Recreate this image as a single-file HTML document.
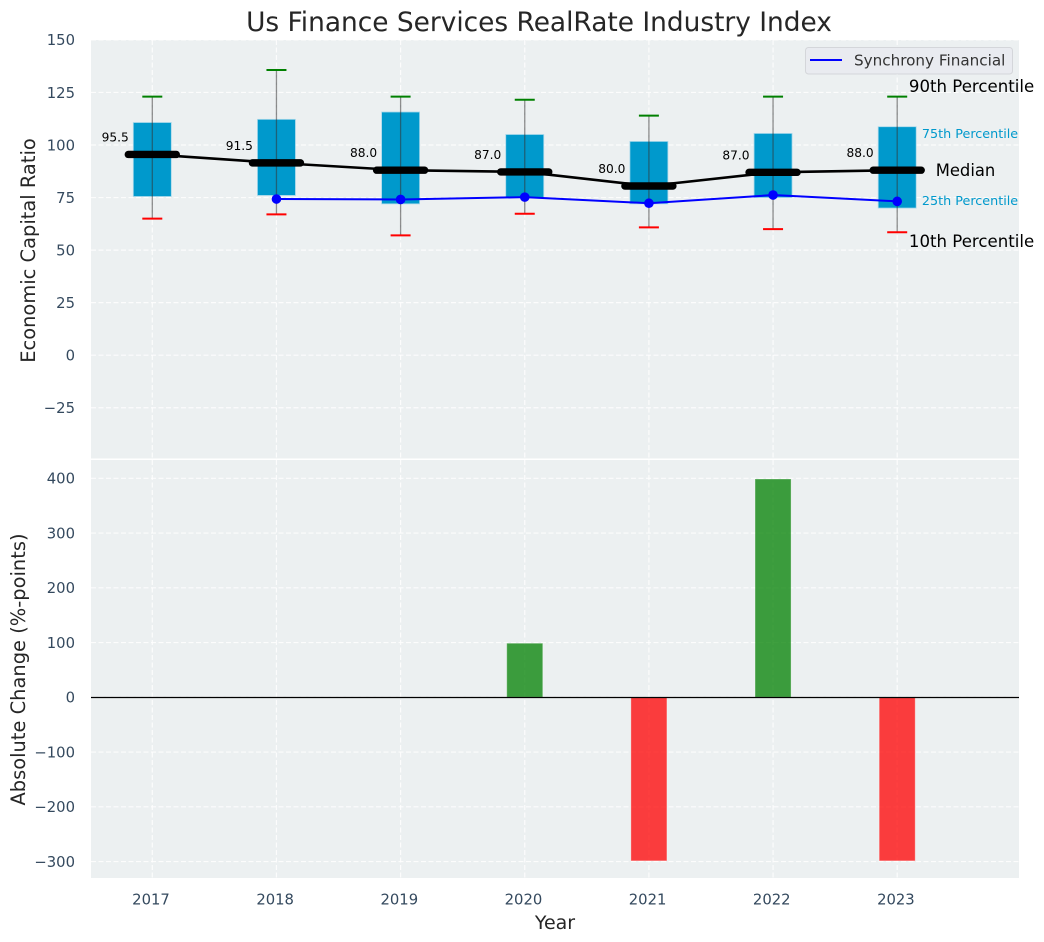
<!DOCTYPE html>
<html lang="en">
<head>
<meta charset="utf-8">
<title>Us Finance Services RealRate Industry Index</title>
<style>
html,body{margin:0;padding:0;background:#fff;width:1044px;height:942px;overflow:hidden}
svg{display:block;font-family:"DejaVu Sans","Liberation Sans",sans-serif}
</style>
</head>
<body>
<svg id="chart" width="1044" height="942" viewBox="0 0 1044 942" xmlns="http://www.w3.org/2000/svg">
  <rect x="91" y="40" width="928" height="418.5" fill="#ecf0f1"/>
  <rect x="91" y="460" width="928" height="418" fill="#ecf0f1"/>
  <g id="grid"></g>
  <g id="ticks"></g>
  <g id="bars"></g>
  <g id="boxes"></g>
  <g id="lines"></g>
  <g id="annotations"></g>
  <text x="539" y="31" text-anchor="middle" font-size="26.4" fill="#262626">Us Finance Services RealRate Industry Index</text>
  <text transform="translate(35,250.5) rotate(-90)" text-anchor="middle" font-size="19.45" fill="#262626">Economic Capital Ratio</text>
  <text transform="translate(25,669.5) rotate(-90)" text-anchor="middle" font-size="19.45" fill="#262626">Absolute Change (%-points)</text>
  <text x="555" y="929" text-anchor="middle" font-size="19" fill="#262626">Year</text>
  <g>
    <rect x="805.5" y="47.5" width="207" height="26.5" rx="3" fill="#e9ebf0" stroke="#d4d6da" stroke-width="1"/>
    <line x1="810" y1="60" x2="842" y2="60" stroke="#0000ff" stroke-width="2"/>
    <text x="854" y="65.5" font-size="15.2" fill="#333">Synchrony Financial</text>
  </g>
</svg>
<script>
var years = [2017, 2018, 2019, 2020, 2021, 2022, 2023];
var p10 = [65, 67, 57, 67.3, 60.8, 60, 58.5];
var q1 = [75.5, 76, 72, 75, 72, 75, 70];
var medians = [95.5, 91.5, 88, 87.2, 80.5, 87, 88];
var q3 = [110.7, 112.2, 115.7, 105, 101.7, 105.5, 108.7];
var p90 = [123, 135.7, 123, 121.5, 114, 123, 123];
var medianLabels = ["95.5", "91.5", "88.0", "87.0", "80.0", "87.0", "88.0"];
var synchrony = [null, 74.3, 74.1, 75.2, 72.3, 76.2, 73.2];
var changes = [null, null, null, 100, -300, 400, -300];
var topTicks = [150, 125, 100, 75, 50, 25, 0, -25];
var bottomTicks = [400, 300, 200, 100, 0, -100, -200, -300];

var NS = "http://www.w3.org/2000/svg";
function xPos(i) { return 152.3 + (years[i] - 2017) * 124.15; }
function yTop(v) { return 355.2 - v * 2.102; }
function yBottom(v) { return 697.3 - v * 0.5475; }
function fmt(t) { return t < 0 ? "\u2212" + Math.abs(t) : String(t); }
function mk(parent, tag, attrs, txt) {
  var el = document.createElementNS(NS, tag);
  for (var k in attrs) el.setAttribute(k, attrs[k]);
  if (txt !== undefined) el.textContent = txt;
  parent.appendChild(el);
  return el;
}
var grid = document.getElementById("grid");
var ticks = document.getElementById("ticks");
var bars = document.getElementById("bars");
var boxes = document.getElementById("boxes");
var lines = document.getElementById("lines");
var ann = document.getElementById("annotations");
var gridStyle = {stroke: "#ffffff", "stroke-width": 1.2, "stroke-dasharray": "5 2.5", opacity: 0.85};
function gridLine(x1, y1, x2, y2) {
  var a = {x1: x1, y1: y1, x2: x2, y2: y2};
  for (var k in gridStyle) a[k] = gridStyle[k];
  var el = mk(grid, "line", a);
  
  
}
topTicks.forEach(function (t) {
  gridLine(91, yTop(t), 1019, yTop(t));
  var el = mk(ticks, "text", {x: 75, y: yTop(t) + 5.3, "text-anchor": "end", "font-size": 14.8, fill: "#34495e"}, fmt(t));
  
  
});
bottomTicks.forEach(function (t) {
  gridLine(91, yBottom(t), 1019, yBottom(t));
  var el = mk(ticks, "text", {x: 75, y: yBottom(t) + 5.3, "text-anchor": "end", "font-size": 14.8, fill: "#34495e"}, fmt(t));
  
  
});
years.forEach(function (yr, i) {
  var x = xPos(i);
  gridLine(x, 40, x, 458.5);
  gridLine(x, 460, x, 878);
  var el = mk(ticks, "text", {x: x - 1.3, y: 904.5, "text-anchor": "middle", "font-size": 14.8, fill: "#34495e"}, String(yr));
  
  
});
changes.forEach(function (v, i) {
  if (v === null) return;
  var y0 = yBottom(0), y1 = yBottom(v);
  var inset = 0.7;
  var el = mk(bars, "rect", {x: xPos(i) - 18, y: Math.min(y0, y1) + (v > 0 ? inset : 0), width: 36, height: Math.abs(y1 - y0) - inset, fill: v > 0 ? "#008000" : "#ff0000", "fill-opacity": 0.75, stroke: "#ffffff", "stroke-opacity": 0.3, "stroke-width": 1});
  
  
});
var zero = mk(bars, "line", {x1: 91, y1: yBottom(0) + 0.2, x2: 1019, y2: yBottom(0) + 0.2, stroke: "#000", "stroke-width": 1.3});


years.forEach(function (yr, i) {
  var x = xPos(i);
  var box = mk(boxes, "rect", {x: x - 19, y: yTop(q3[i]), width: 38, height: yTop(q1[i]) - yTop(q3[i]), fill: "#0099cc", stroke: "#a8d8ea", "stroke-width": 0.8});
  
  
  var wh = mk(boxes, "line", {x1: x, y1: yTop(p90[i]), x2: x, y2: yTop(p10[i]), stroke: "#333", "stroke-opacity": 0.55, "stroke-width": 1.3});
  
  
  var hi = mk(boxes, "line", {x1: x - 10, y1: yTop(p90[i]), x2: x + 10, y2: yTop(p90[i]), stroke: "#008000", "stroke-width": 2});
  
  
  var lo = mk(boxes, "line", {x1: x - 10, y1: yTop(p10[i]), x2: x + 10, y2: yTop(p10[i]), stroke: "#ff0000", "stroke-width": 2});
  
  
});
var medPts = years.map(function (y, i) { return xPos(i) + "," + yTop(medians[i]); }).join(" ");
var medLine = mk(lines, "polyline", {points: medPts, fill: "none", stroke: "#000", "stroke-width": 2.6});


years.forEach(function (yr, i) {
  var x = xPos(i), y = yTop(medians[i]);
  var bar = mk(lines, "line", {x1: x - 24, y1: y, x2: x + 24, y2: y, stroke: "#000", "stroke-width": 7.4, "stroke-linecap": "round"});
  
  
  var lab = mk(lines, "text", {x: x - 23.5, y: y - 13, "text-anchor": "end", "font-size": 12.2, fill: "#000"}, medianLabels[i]);
  
  
});
var synPts = [];
synchrony.forEach(function (v, i) { if (v !== null) synPts.push(xPos(i) + "," + yTop(v)); });
var synLine = mk(lines, "polyline", {points: synPts.join(" "), fill: "none", stroke: "#0000ff", "stroke-width": 2});


synchrony.forEach(function (v, i) {
  if (v === null) return;
  var dot = mk(lines, "circle", {cx: xPos(i), cy: yTop(v), r: 4.8, fill: "#0000ff"});
  
  
});
var last = years.length - 1;
var lx = xPos(last);
var a90 = mk(ann, "text", {x: lx + 11.7, y: yTop(p90[last]) - 4.8, "font-size": 16.6, fill: "#000"}, "90th Percentile");


var a75 = mk(ann, "text", {x: lx + 24.7, y: yTop(q3[last]) + 11.3, "font-size": 12.75, fill: "#0099cc"}, "75th Percentile");


var aMed = mk(ann, "text", {x: lx + 38.5, y: yTop(medians[last]) + 5.6, "font-size": 16.4, fill: "#000"}, "Median");


var a25 = mk(ann, "text", {x: lx + 24.7, y: yTop(q1[last]) - 3, "font-size": 12.75, fill: "#0099cc"}, "25th Percentile");


var a10 = mk(ann, "text", {x: lx + 11.7, y: yTop(p10[last]) + 14.8, "font-size": 16.6, fill: "#000"}, "10th Percentile");


</script>
</body>
</html>
